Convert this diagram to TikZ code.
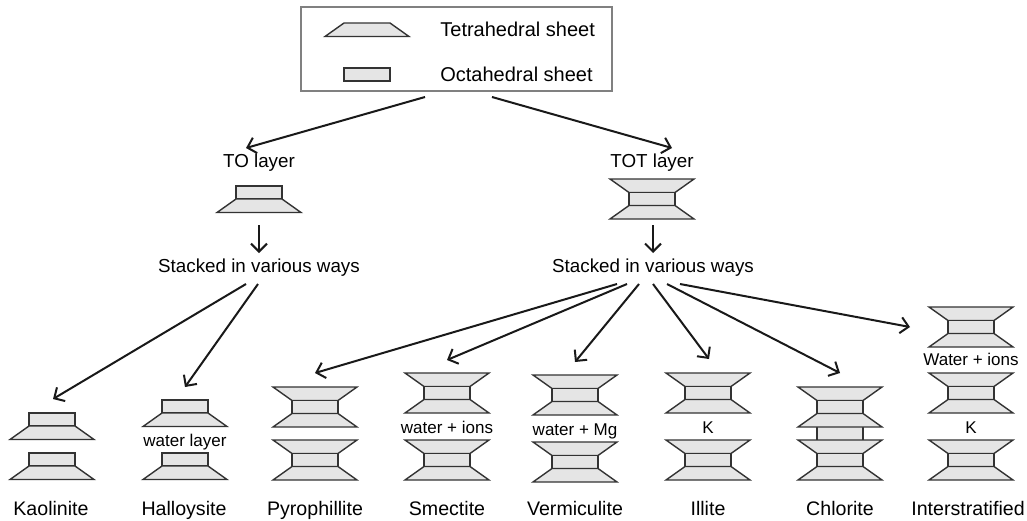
\documentclass[tikz,border=0pt]{standalone}
\usepackage{fontspec}
\setmainfont{Liberation Sans}
\usetikzlibrary{arrows.meta}

\begin{document}
\begin{tikzpicture}[x=0.5pt,y=-0.5pt,line width=0.7pt,
  >={Straight Barb[length=4pt,width=8pt]},
  sheet/.style={draw=black!80,fill=black!10},
  conn/.style={->,line width=1pt,draw=black!90},
  lbl/.style={font=\fontsize{9.8}{12}\selectfont,anchor=base},
  mid/.style={font=\fontsize{9.4}{11}\selectfont,anchor=base},
  gap/.style={font=\fontsize{8.5}{10}\selectfont,inner sep=0pt,anchor=base},
  pics/tet/.style={code={\draw[sheet] (-42,13.5) -- (42,13.5) -- (23,0) -- (-23,0) -- cycle;}},
  pics/tetinv/.style={code={\draw[sheet] (-42,0) -- (42,0) -- (23,13.5) -- (-23,13.5) -- cycle;}},
  pics/oct/.style={code={\draw[sheet] (-23,0) rectangle (23,13);}},
  pics/tolay/.style={code={\pic at (0,0) {oct}; \pic at (0,13) {tet};}},
  pics/totlay/.style={code={\pic at (0,0) {tetinv}; \pic at (0,13.5) {oct}; \pic at (0,26.5) {tet};}}]
  \useasboundingbox (0,0) rectangle (1027,520);

  % legend
  \draw[draw=black!50,line width=0.6pt] (301,7) rectangle (612,91);
  \pic at (367,23) {tet};
  \pic at (367,68) {oct};
  \node[lbl,anchor=base west,font=\fontsize{10}{12}\selectfont] (legtet) at (433,36) {Tetrahedral sheet};
  \node[lbl,anchor=base west,font=\fontsize{10}{12}\selectfont] (legoct) at (433,81) {Octahedral sheet};

  % the two layer types
  \node[mid] (tolbl) at (259,167) {TO layer};
  \node[mid] (totlbl) at (652,167) {TOT layer};
  \pic at (259,186) {tolay};
  \pic at (652,179) {totlay};
  \node[mid] (stkl) at (259,272) {Stacked in various ways};
  \node[mid] (stkr) at (653,272) {Stacked in various ways};

  % stacks
  \pic at (52,413) {tolay};
  \pic at (52,453) {tolay};
  \pic at (185,400) {tolay};
  \node[gap] (halw) at (185,446) {water layer};
  \pic at (185,453) {tolay};
  \pic at (315,387) {totlay};
  \pic at (315,440) {totlay};
  \pic at (447,373) {totlay};
  \node[gap] (smew) at (447,433) {water + ions};
  \pic at (447,440) {totlay};
  \pic at (575,375) {totlay};
  \node[gap] (verw) at (575,435) {water + Mg};
  \pic at (575,442) {totlay};
  \pic at (708,373) {totlay};
  \node[gap] (illk) at (708,433) {K};
  \pic at (708,440) {totlay};
  \draw[sheet] (817,420) rectangle (863,446);
  \pic at (840,387) {totlay};
  \pic at (840,440) {totlay};
  \pic at (971,307) {totlay};
  \node[gap] (intw) at (971,365) {Water + ions};
  \pic at (971,373) {totlay};
  \node[gap] (intk) at (971,433) {K};
  \pic at (971,440) {totlay};

  % names
  \node[lbl] (kao) at (51,515) {Kaolinite};
  \node[lbl] (hal) at (184,515) {Halloysite};
  \node[lbl] (pyr) at (315,515) {Pyrophillite};
  \node[lbl] (sme) at (447,515) {Smectite};
  \node[lbl] (ver) at (575,515) {Vermiculite};
  \node[lbl] (ill) at (708,515) {Illite};
  \node[lbl] (chl) at (840,515) {Chlorite};
  \node[lbl] (int) at (968,515) {Interstratified};

  % arrow ends
  \coordinate (lgL) at (425,97);
  \coordinate (lgR) at (492,97);
  \coordinate (toIn) at (246,148);
  \coordinate (totIn) at (672,148);
  \coordinate (toOut) at (259,225);
  \coordinate (totOut) at (653,225);
  \coordinate (stlIn) at (259,253);
  \coordinate (strIn) at (653,253);
  \coordinate (kaoIn) at (53,399);
  \coordinate (halIn) at (185,387);
  \coordinate (pyrIn) at (315,373);
  \coordinate (smeIn) at (447,360);
  \coordinate (verIn) at (575,362);
  \coordinate (illIn) at (709,359);
  \coordinate (chlIn) at (840,373);
  \coordinate (intIn) at (910,327);

  % arrows
  \draw[conn] (lgL) -- (toIn);
  \draw[conn] (lgR) -- (totIn);
  \draw[conn] (toOut) -- (stlIn);
  \draw[conn] (totOut) -- (strIn);
  \draw[conn] (stkl.base -| 246,0) ++(0,12) -- (kaoIn);
  \draw[conn] (stkl.base -| 258,0) ++(0,12) -- (halIn);
  \draw[conn] (stkr.base -| 617,0) ++(0,12) -- (pyrIn);
  \draw[conn] (stkr.base -| 627,0) ++(0,12) -- (smeIn);
  \draw[conn] (stkr.base -| 639,0) ++(0,12) -- (verIn);
  \draw[conn] (stkr.base -| 653,0) ++(0,12) -- (illIn);
  \draw[conn] (stkr.base -| 667,0) ++(0,12) -- (chlIn);
  \draw[conn] (stkr.base -| 680,0) ++(0,12) -- (intIn);
\end{tikzpicture}
\end{document}
